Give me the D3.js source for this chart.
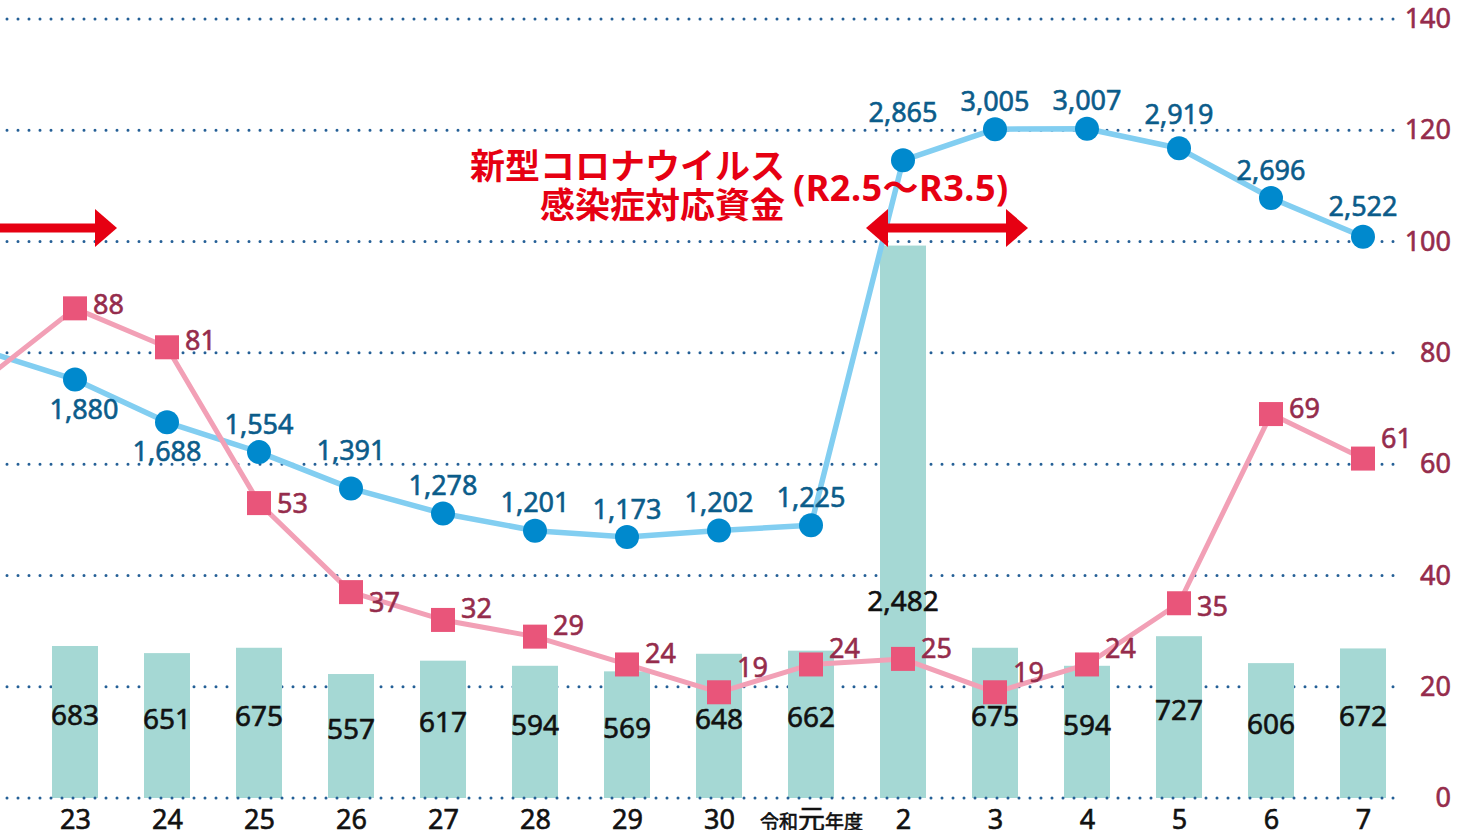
<!DOCTYPE html>
<html>
<head>
<meta charset="utf-8">
<script src="https://cdn.jsdelivr.net/npm/d3@7"></script>
<style>
  html, body { margin: 0; padding: 0; background: #fff; }
  svg { display: block; }
  text { font-family: "Noto Sans", "Noto Sans CJK JP", sans-serif; }
  .num { paint-order: stroke; stroke-width: 0.6px; }
</style>
</head>
<body>
<svg id="chart" width="1467" height="830"></svg>
<script>
// categories (fiscal years). "22" sits just off the left edge, only the lines reach it
const years = ["22", "23", "24", "25", "26", "27", "28", "29", "30", "元", "2", "3", "4", "5", "6", "7"];
// bars (left, hidden scale 0-3500)
const barValues = [null, 683, 651, 675, 557, 617, 594, 569, 648, 662, 2482, 675, 594, 727, 606, 672];
// blue line (same scale as bars)
const blueValues = [2010, 1880, 1688, 1554, 1391, 1278, 1201, 1173, 1202, 1225, 2865, 3005, 3007, 2919, 2696, 2522];
// pink line (right axis 0-140)
const pinkValues = [75, 88, 81, 53, 37, 32, 29, 24, 19, 24, 25, 19, 24, 35, 69, 61];
const rightTicks = [0, 20, 40, 60, 80, 100, 120, 140];

// label nudges [dx, dy] (layout only)
const blueNudge = { "23": [9, 30], "24": [0, 29], "26": [0, -38], "2": [0, -48], "5": [0, -34], "7": [0, -30] };
const pinkDy = { "23": -4, "24": -7, "25": 0, "26": 10, "27": -12, "28": -11, "29": -11, "30": -25,
                 "元": -16, "2": -11, "3": -20, "4": -16, "5": 3, "6": -6, "7": -20 };

const colors = {
    bar: "#a5d8d4",
    blueLine: "#82cef1",
    blueDot: "#0089cd",
    blueText: "#0b5c8a",
    pinkLine: "#f2a0b6",
    pinkDot: "#e9557a",
    pinkText: "#952c4c",
    grid: "#245f96",
    red: "#e60012"
};

const svg = d3.select("#chart");
const baseY = 798, topY = 19;

const x = d3.scalePoint().domain(years).range([-17, 1363]);
const yLeft = d3.scaleLinear().domain([0, 3500]).range([baseY, topY]);
const yRight = d3.scaleLinear().domain([0, 140]).range([baseY, topY]);
const barW = 46;

// dotted grid (behind everything except the baseline)
const gridG = svg.append("g");
gridG.selectAll("line")
    .data(rightTicks.filter(d => d > 0))
    .join("line")
    .attr("x1", 7).attr("x2", 1401)
    .attr("y1", d => yRight(d)).attr("y2", d => yRight(d))
    .attr("stroke", colors.grid)
    .attr("stroke-width", 3)
    .attr("stroke-linecap", "round")
    .attr("stroke-dasharray", "0 11");

// bars
const barData = years.map((y, i) => ({ year: y, v: barValues[i] })).filter(d => d.v != null);
svg.append("g").selectAll("rect")
    .data(barData)
    .join("rect")
    .attr("x", d => x(d.year) - barW / 2)
    .attr("y", d => yLeft(d.v))
    .attr("width", barW)
    .attr("height", d => baseY - yLeft(d.v))
    .attr("fill", colors.bar);

// baseline dots on top of the bars
svg.append("line")
    .attr("x1", 7).attr("x2", 1401)
    .attr("y1", baseY).attr("y2", baseY)
    .attr("stroke", colors.grid)
    .attr("stroke-width", 3)
    .attr("stroke-linecap", "round")
    .attr("stroke-dasharray", "0 11");

// bar labels
svg.append("g").selectAll("text")
    .data(barData)
    .join("text")
    .attr("class", "num")
    .attr("x", d => x(d.year))
    .attr("y", d => d.v > 2000 ? 601 : (yLeft(d.v) + baseY) / 2 - 7)
    .attr("dy", "0.36em")
    .attr("text-anchor", "middle")
    .attr("font-size", 28)
    .attr("fill", "#111")
    .attr("stroke", "#111")
    .text(d => d3.format(",")(d.v));

// blue line
const blueData = years.map((y, i) => ({ year: y, v: blueValues[i] }));
svg.append("path")
    .datum(blueData)
    .attr("fill", "none")
    .attr("stroke", colors.blueLine)
    .attr("stroke-width", 5.5)
    .attr("stroke-linejoin", "round")
    .attr("d", d3.line().x(d => x(d.year)).y(d => yLeft(d.v)));

svg.append("g").selectAll("circle")
    .data(blueData.slice(1))
    .join("circle")
    .attr("cx", d => x(d.year))
    .attr("cy", d => yLeft(d.v))
    .attr("r", 12)
    .attr("fill", colors.blueDot);

svg.append("g").selectAll("text")
    .data(blueData.slice(1))
    .join("text")
    .attr("class", "num")
    .attr("x", d => x(d.year) + (blueNudge[d.year] || [0, -28])[0])
    .attr("y", d => yLeft(d.v) + (blueNudge[d.year] || [0, -28])[1])
    .attr("dy", "0.36em")
    .attr("text-anchor", "middle")
    .attr("font-size", 27)
    .attr("fill", colors.blueText)
    .attr("stroke", colors.blueText)
    .text(d => d3.format(",")(d.v));

// pink line
const pinkData = years.map((y, i) => ({ year: y, v: pinkValues[i] }));
svg.append("path")
    .datum(pinkData)
    .attr("fill", "none")
    .attr("stroke", colors.pinkLine)
    .attr("stroke-width", 5)
    .attr("stroke-linejoin", "round")
    .attr("d", d3.line().x(d => x(d.year)).y(d => yRight(d.v)));

svg.append("g").selectAll("rect")
    .data(pinkData.slice(1))
    .join("rect")
    .attr("x", d => x(d.year) - 12)
    .attr("y", d => yRight(d.v) - 12)
    .attr("width", 24)
    .attr("height", 24)
    .attr("fill", colors.pinkDot);

svg.append("g").selectAll("text")
    .data(pinkData.slice(1))
    .join("text")
    .attr("class", "num")
    .attr("x", d => x(d.year) + 18)
    .attr("y", d => yRight(d.v) + pinkDy[d.year])
    .attr("dy", "0.36em")
    .attr("font-size", 27)
    .attr("fill", colors.pinkText)
    .attr("stroke", colors.pinkText)
    .text(d => d.v);

// right axis
const rightAxis = svg.append("g")
    .attr("transform", "translate(1451,0)")
    .call(d3.axisLeft(yRight).tickValues(rightTicks).tickSize(0).tickPadding(0));
rightAxis.select(".domain").remove();
rightAxis.selectAll("text")
    .attr("class", "num")
    .attr("font-family", null)
    .attr("font-size", 27)
    .attr("fill", colors.pinkText)
    .attr("stroke", colors.pinkText);

// bottom axis
const bottomAxis = svg.append("g")
    .attr("transform", `translate(0,${baseY})`)
    .call(d3.axisBottom(x).tickValues(years.slice(1)).tickSize(0).tickPadding(12));
bottomAxis.select(".domain").remove();
bottomAxis.selectAll("text")
    .attr("class", "num")
    .attr("font-family", null)
    .attr("font-size", 27)
    .attr("fill", "#111")
    .attr("stroke", "#111");
bottomAxis.selectAll(".tick").filter(d => d === "元").select("text")
    .text(null)
    .attr("font-family", "Noto Sans CJK JP")
    .attr("stroke-width", 0.3)
    .call(t => {
        t.append("tspan").attr("font-size", 19).text("令和");
        t.append("tspan").attr("font-size", 27).text("元");
        t.append("tspan").attr("font-size", 19).text("年度");
    });

// red arrows
const arrowY = 228;
const arrows = svg.append("g").attr("fill", colors.red).attr("stroke", "none");
const leftTip = x("23") + 42;
arrows.append("rect").attr("x", 0).attr("y", arrowY - 4.5).attr("width", leftTip - 20).attr("height", 9);
arrows.append("path").attr("d", `M${leftTip - 22},${arrowY - 19}L${leftTip},${arrowY}L${leftTip - 22},${arrowY + 19}Z`);

const dL = x("2") - 37, dR = x("3") + 33;
arrows.append("rect").attr("x", dL + 20).attr("y", arrowY - 4.5).attr("width", dR - dL - 40).attr("height", 9);
arrows.append("path").attr("d", `M${dL + 22},${arrowY - 19}L${dL},${arrowY}L${dL + 22},${arrowY + 19}Z`);
arrows.append("path").attr("d", `M${dR - 22},${arrowY - 19}L${dR},${arrowY}L${dR - 22},${arrowY + 19}Z`);

// annotation
const note = svg.append("g")
    .attr("fill", colors.red)
    .attr("font-family", "Noto Sans CJK JP")
    .attr("font-weight", 700);
note.append("text").attr("x", 785).attr("y", 179).attr("font-size", 35).attr("text-anchor", "end").text("新型コロナウイルス");
note.append("text").attr("x", 785).attr("y", 218).attr("font-size", 35).attr("text-anchor", "end").text("感染症対応資金");
note.append("text").attr("x", 793).attr("y", 201).attr("font-size", 36).attr("letter-spacing", 0.5).text("(R2.5〜R3.5)");
</script>
</body>
</html>
